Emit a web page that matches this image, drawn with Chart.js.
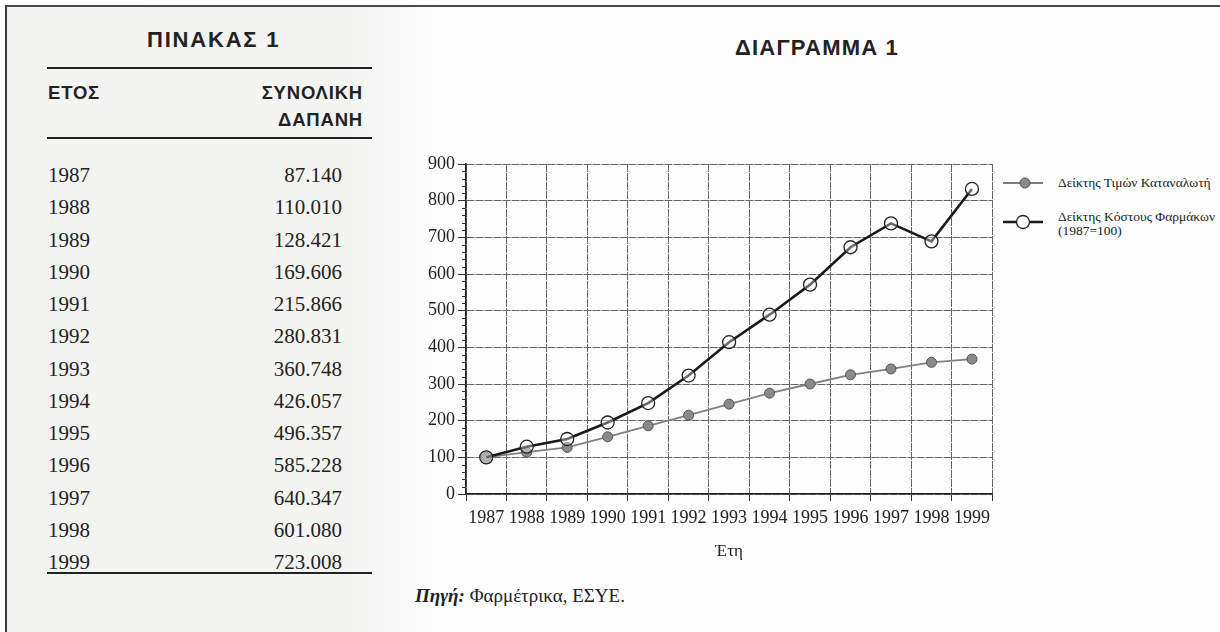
<!DOCTYPE html>
<html>
<head>
<meta charset="utf-8">
<script src="https://cdn.jsdelivr.net/npm/chart.js@4/dist/chart.umd.min.js"></script>
<style>
  body { margin: 0; width: 1220px; height: 632px; overflow: hidden; background: #fdfdfd; position: relative; }
  .frame { position: absolute; left: 5px; top: 5px; width: 1220px; height: 640px; border-top: 2px solid #4a4a4a; border-left: 2px solid #3a3a3a; }
  .panel { position: absolute; left: 7px; top: 7px; width: 460px; height: 625px; background: linear-gradient(to right, #f3f3f2 0, #f4f4f3 340px, #fdfdfd 440px); }
  .ttl { position: absolute; font: bold 22px "Liberation Sans", Arial, sans-serif; color: #222; line-height: 24px; white-space: nowrap; }
  .hd { position: absolute; font: bold 18.5px "Liberation Sans", Arial, sans-serif; color: #222; letter-spacing: 0.8px; line-height: 27px; }
  .rule { position: absolute; left: 47px; width: 325px; height: 2px; background: #222; }
  #rows { position: absolute; left: 48px; top: 159px; width: 294px; font: 21px "Liberation Serif", "Times New Roman", serif; color: #222; line-height: 32.25px; }
  #rows div { display: flex; justify-content: space-between; }
  #box { position: absolute; left: 400px; top: 140px; width: 600px; height: 426px; }
  .lg { position: absolute; font: 13.5px "Liberation Serif", "Times New Roman", serif; color: #222; line-height: 14px; white-space: nowrap; }
  .src { position: absolute; left: 415px; top: 585px; font: 19px "Liberation Serif", "Times New Roman", serif; color: #222; }
</style>
</head>
<body>
<div class="panel"></div>
<div class="frame"></div>

<div class="ttl" style="left:147px; top:28px; letter-spacing:1.8px;">ΠΙΝΑΚΑΣ 1</div>
<div class="rule" style="top:67px;"></div>
<div class="hd" style="left:48px; top:79px;">ΕΤΟΣ</div>
<div class="hd" style="right:857px; top:79px; text-align:right;">ΣΥΝΟΛΙΚΗ<br>ΔΑΠΑΝΗ</div>
<div class="rule" style="top:137px;"></div>
<div id="rows"></div>
<div class="rule" style="top:572px;"></div>

<div class="ttl" style="left:735px; top:36px; letter-spacing:1.2px;">ΔΙΑΓΡΑΜΜΑ 1</div>
<div id="box"><canvas id="chart"></canvas></div>

<svg style="position:absolute; left:1000px; top:175px;" width="50" height="56">
  <line x1="3" y1="8" x2="43" y2="8" stroke="#7a7a7a" stroke-width="2"/>
  <circle cx="25" cy="8" r="5" fill="#8a8a8a" stroke="#555" stroke-width="1"/>
  <line x1="3" y1="47" x2="43" y2="47" stroke="#1a1a1a" stroke-width="2.5"/>
  <circle cx="23" cy="47" r="6.5" fill="#fdfdfd" stroke="#222" stroke-width="1.3"/>
</svg>
<div class="lg" id="lg1" style="left:1058px; top:176px;"></div>
<div class="lg" id="lg2" style="left:1058px; top:210px;"></div>

<div class="src"><b><i>Πηγή:</i></b> Φαρμέτρικα, ΕΣΥΕ.</div>

<script>
// Πίνακας 1: συνολική δαπάνη
const tableYears = ["1987", "1988", "1989", "1990", "1991", "1992", "1993", "1994", "1995", "1996", "1997", "1998", "1999"];
const totalSpending = [87140, 110010, 128421, 169606, 215866, 280831, 360748, 426057, 496357, 585228, 640347, 601080, 723008];

// Διάγραμμα 1
const years = ["1987", "1988", "1989", "1990", "1991", "1992", "1993", "1994", "1995", "1996", "1997", "1998", "1999"];
const cpiIndex = [100, 114, 127, 156, 186, 215, 245, 275, 300, 325, 341, 359, 368];
const drugCostIndex = [100, 129, 150, 195, 248, 323, 414, 489, 571, 673, 738, 689, 832];
const cpiLabel = "Δείκτης Τιμών Καταναλωτή";
const drugLabel = ["Δείκτης Κόστους Φαρμάκων", "(1987=100)"];
const yTicks = [0, 100, 200, 300, 400, 500, 600, 700, 800, 900];

// table rows
const rows = document.getElementById("rows");
tableYears.forEach((y, i) => {
  const d = document.createElement("div");
  const v = totalSpending[i].toString().replace(/\B(?=(\d{3})+(?!\d))/g, ".");
  d.innerHTML = "<span>" + y + "</span><span>" + v + "</span>";
  rows.appendChild(d);
});
document.getElementById("lg1").textContent = cpiLabel;
document.getElementById("lg2").innerHTML = drugLabel.join("<br>");

// small ticks every 20 on the y axis
const minorTicks = {
  id: "minorTicks",
  afterDraw(chart) {
    const s = chart.scales.y, ctx = chart.ctx;
    ctx.save();
    ctx.strokeStyle = "#333";
    ctx.lineWidth = 1;
    for (let v = s.min; v <= s.max; v += 20) {
      if (v % 100 === 0) continue;
      const py = Math.round(s.getPixelForValue(v)) + 0.5;
      ctx.beginPath();
      ctx.moveTo(s.right - 4, py);
      ctx.lineTo(s.right, py);
      ctx.stroke();
    }
    ctx.restore();
  }
};

const serif = "'Liberation Serif', 'Times New Roman', serif";

new Chart("chart", {
  type: "line",
  data: {
    labels: years,
    datasets: [{
      label: cpiLabel,
      data: cpiIndex,
      borderColor: "#808080",
      borderWidth: 1.8,
      pointRadius: 5,
      pointBackgroundColor: "#8a8a8a",
      pointBorderColor: "#555",
      pointBorderWidth: 1,
      tension: 0,
      order: 1
    }, {
      label: drugLabel.join(" "),
      data: drugCostIndex,
      borderColor: "#1a1a1a",
      borderWidth: 2.6,
      pointRadius: 6.5,
      pointBackgroundColor: "rgba(255,255,255,0.35)",
      pointBorderColor: "#222",
      pointBorderWidth: 1.3,
      tension: 0,
      order: 0
    }]
  },
  options: {
    responsive: true,
    maintainAspectRatio: false,
    animation: false,
    layout: { padding: { top: 24, right: 7, left: 0, bottom: 0 } },
    plugins: {
      legend: { display: false },
      tooltip: { enabled: false }
    },
    scales: {
      x: {
        offset: true,
        grid: { offset: true, color: "#666", lineWidth: 1, tickLength: 7, tickColor: "#333" },
        border: { display: true, color: "#222", width: 1.5, dash: [8, 1] },
        ticks: { color: "#222", font: { family: serif, size: 18 }, padding: 6, maxRotation: 0, autoSkip: false },
        title: { display: true, text: "Έτη", color: "#222", font: { family: serif, size: 17 }, padding: { top: 4, bottom: 4 } },
        afterFit(s) { s.height = 72; }
      },
      y: {
        min: 0,
        max: 900,
        afterBuildTicks(s) { s.ticks = yTicks.map(v => ({ value: v })); },
        grid: { color: "#666", lineWidth: 1, tickLength: 8, tickColor: "#333" },
        border: { display: true, color: "#222", width: 1.5, dash: [8, 1] },
        ticks: { color: "#222", font: { family: serif, size: 18 }, padding: 3 },
        afterFit(s) { s.width = 66; }
      }
    }
  },
  plugins: [minorTicks]
});
</script>
</body>
</html>
